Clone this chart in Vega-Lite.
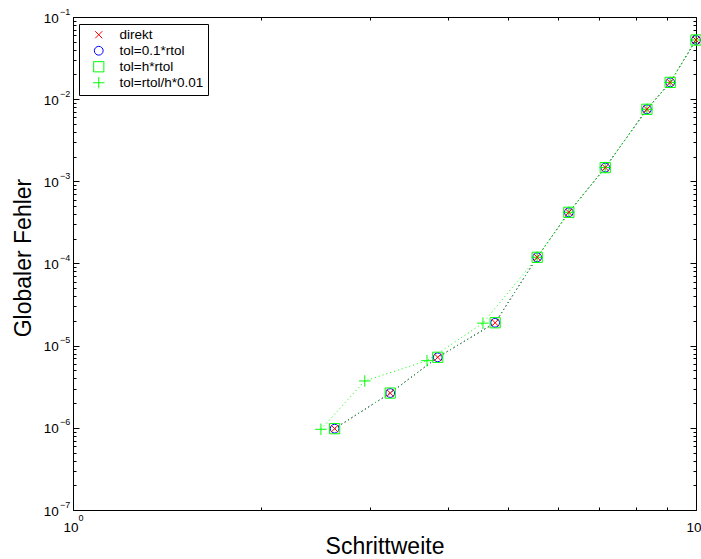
{
  "$schema": "https://vega.github.io/schema/vega-lite/v6.json",
  "width": 623,
  "height": 493,
  "autosize": {"type": "none"},
  "padding": {"left": 73, "top": 17, "right": 5, "bottom": 49},
  "background": "white",
  "config": {
    "font": "Liberation Sans",
    "view": {"stroke": null},
    "line": {"strokeDash": [1, 3], "strokeWidth": 1},
    "axis": {
      "grid": false,
      "domainColor": "black",
      "domainWidth": 1,
      "tickColor": "black",
      "tickWidth": 1,
      "labelColor": "black",
      "labelFont": "Liberation Sans",
      "labelFontSize": 13.5,
      "labelOverlap": false,
      "labelFlush": false,
      "labelBound": false,
      "titleColor": "black",
      "titleFont": "Liberation Sans",
      "titleFontWeight": "normal",
      "titleFontSize": 23
    }
  },
  "data": {
    "values": [
      {"s": "tol=0.1*rtol", "h": 2.63, "err": 9.77e-7},
      {"s": "tol=0.1*rtol", "h": 3.23, "err": 2.65e-6},
      {"s": "tol=0.1*rtol", "h": 3.85, "err": 7.22e-6},
      {"s": "tol=0.1*rtol", "h": 4.76, "err": 1.90e-5},
      {"s": "tol=0.1*rtol", "h": 5.56, "err": 1.19e-4},
      {"s": "tol=0.1*rtol", "h": 6.25, "err": 4.20e-4},
      {"s": "tol=0.1*rtol", "h": 7.15, "err": 1.47e-3},
      {"s": "tol=0.1*rtol", "h": 8.34, "err": 7.53e-3},
      {"s": "tol=0.1*rtol", "h": 9.09, "err": 1.60e-2},
      {"s": "tol=0.1*rtol", "h": 10.0, "err": 5.25e-2},
      {"s": "tol=h*rtol", "h": 2.63, "err": 9.77e-7},
      {"s": "tol=h*rtol", "h": 3.23, "err": 2.65e-6},
      {"s": "tol=h*rtol", "h": 3.85, "err": 7.22e-6},
      {"s": "tol=h*rtol", "h": 4.76, "err": 1.90e-5},
      {"s": "tol=h*rtol", "h": 5.56, "err": 1.19e-4},
      {"s": "tol=h*rtol", "h": 6.25, "err": 4.20e-4},
      {"s": "tol=h*rtol", "h": 7.15, "err": 1.47e-3},
      {"s": "tol=h*rtol", "h": 8.34, "err": 7.53e-3},
      {"s": "tol=h*rtol", "h": 9.09, "err": 1.60e-2},
      {"s": "tol=h*rtol", "h": 10.0, "err": 5.25e-2},
      {"s": "tol=rtol/h*0.01", "h": 2.50, "err": 9.6e-7},
      {"s": "tol=rtol/h*0.01", "h": 2.94, "err": 3.72e-6},
      {"s": "tol=rtol/h*0.01", "h": 3.70, "err": 6.57e-6},
      {"s": "tol=rtol/h*0.01", "h": 4.55, "err": 1.88e-5},
      {"s": "tol=rtol/h*0.01", "h": 5.56, "err": 1.19e-4},
      {"s": "tol=rtol/h*0.01", "h": 6.25, "err": 4.20e-4},
      {"s": "tol=rtol/h*0.01", "h": 7.15, "err": 1.47e-3},
      {"s": "tol=rtol/h*0.01", "h": 8.34, "err": 7.53e-3},
      {"s": "tol=rtol/h*0.01", "h": 9.09, "err": 1.60e-2},
      {"s": "tol=rtol/h*0.01", "h": 10.0, "err": 5.25e-2},
      {"s": "direkt", "h": 2.63, "err": 9.77e-7},
      {"s": "direkt", "h": 3.23, "err": 2.65e-6},
      {"s": "direkt", "h": 3.85, "err": 7.22e-6},
      {"s": "direkt", "h": 4.76, "err": 1.90e-5},
      {"s": "direkt", "h": 5.56, "err": 1.19e-4},
      {"s": "direkt", "h": 6.25, "err": 4.20e-4},
      {"s": "direkt", "h": 7.15, "err": 1.47e-3},
      {"s": "direkt", "h": 8.34, "err": 7.53e-3},
      {"s": "direkt", "h": 9.09, "err": 1.60e-2},
      {"s": "direkt", "h": 10.0, "err": 5.25e-2}
    ]
  },
  "layer": [
    {
      "transform": [{"filter": "datum.s === 'direkt'"}],
      "mark": {"type": "line", "color": "#ff0000"},
      "encoding": {
        "x": {
          "field": "h", "type": "quantitative",
          "scale": {"type": "log", "domain": [1, 10], "nice": false},
          "axis": {
            "orient": "bottom",
            "values": [1, 2, 3, 4, 5, 6, 7, 8, 9, 10],
            "tickSize": {"condition": {"test": "abs(log(datum.value)/LN10 - round(log(datum.value)/LN10)) < 1e-6", "value": -6}, "value": -3},
            "labelPadding": 16.7,
            "labelOffset": -2.5,
            "labelExpr": "abs(log(datum.value)/LN10 - round(log(datum.value)/LN10)) < 1e-6 ? '10' : ''",
            "title": "Schrittweite",
            "titlePadding": -1.5
          }
        },
        "y": {
          "field": "err", "type": "quantitative",
          "scale": {"type": "log", "domain": [1e-7, 0.1], "nice": false},
          "axis": {
            "orient": "left",
            "values": [1e-7, 2e-7, 3e-7, 4e-7, 5e-7, 6e-7, 7e-7, 8e-7, 9e-7, 1e-6, 2e-6, 3e-6, 4e-6, 5e-6, 6e-6, 7e-6, 8e-6, 9e-6, 1e-5, 2e-5, 3e-5, 4e-5, 5e-5, 6e-5, 7e-5, 8e-5, 9e-5, 1e-4, 2e-4, 3e-4, 4e-4, 5e-4, 6e-4, 7e-4, 8e-4, 9e-4, 1e-3, 2e-3, 3e-3, 4e-3, 5e-3, 6e-3, 7e-3, 8e-3, 9e-3, 1e-2, 2e-2, 3e-2, 4e-2, 5e-2, 6e-2, 7e-2, 8e-2, 9e-2, 1e-1],
            "tickSize": {"condition": {"test": "abs(log(datum.value)/LN10 - round(log(datum.value)/LN10)) < 1e-6", "value": -6}, "value": -3},
            "labelPadding": 20.7,
            "labelOffset": 1,
            "labelExpr": "abs(log(datum.value)/LN10 - round(log(datum.value)/LN10)) < 1e-6 ? '10' : ''",
            "title": "Globaler Fehler",
            "titlePadding": 8,
            "titleY": 240.5
          }
        }
      }
    },
    {
      "transform": [{"filter": "datum.s === 'tol=0.1*rtol'"}],
      "mark": {"type": "line", "color": "#0000ff"},
      "encoding": {
        "x": {"field": "h", "type": "quantitative", "axis": null},
        "y": {"field": "err", "type": "quantitative", "axis": null}
      }
    },
    {
      "transform": [{"filter": "datum.s === 'tol=h*rtol'"}],
      "mark": {"type": "line", "color": "#00ff00"},
      "encoding": {
        "x": {"field": "h", "type": "quantitative", "axis": null},
        "y": {"field": "err", "type": "quantitative", "axis": null}
      }
    },
    {
      "transform": [{"filter": "datum.s === 'tol=rtol/h*0.01'"}],
      "mark": {"type": "line", "color": "#00ff00"},
      "encoding": {
        "x": {"field": "h", "type": "quantitative", "axis": null},
        "y": {"field": "err", "type": "quantitative", "axis": null}
      }
    },
    {
      "mark": {"type": "point", "filled": false, "strokeWidth": 1, "opacity": 1},
      "encoding": {
        "x": {
          "field": "h", "type": "quantitative",
          "axis": {
            "orient": "top",
            "values": [1, 2, 3, 4, 5, 6, 7, 8, 9, 10],
            "tickSize": {"condition": {"test": "abs(log(datum.value)/LN10 - round(log(datum.value)/LN10)) < 1e-6", "value": -6}, "value": -3},
            "labelExpr": "abs(log(datum.value)/LN10 - round(log(datum.value)/LN10)) < 1e-6 ? (round(log(datum.value)/LN10) < 0 ? '−' : '') + abs(round(log(datum.value)/LN10)) : ''",
            "labelFontSize": 9,
            "labelAlign": "left",
            "labelBaseline": "middle",
            "labelPadding": -494.5,
            "labelOffset": 5,
            "title": null
          }
        },
        "y": {
          "field": "err", "type": "quantitative",
          "axis": {
            "orient": "right",
            "values": [1e-7, 2e-7, 3e-7, 4e-7, 5e-7, 6e-7, 7e-7, 8e-7, 9e-7, 1e-6, 2e-6, 3e-6, 4e-6, 5e-6, 6e-6, 7e-6, 8e-6, 9e-6, 1e-5, 2e-5, 3e-5, 4e-5, 5e-5, 6e-5, 7e-5, 8e-5, 9e-5, 1e-4, 2e-4, 3e-4, 4e-4, 5e-4, 6e-4, 7e-4, 8e-4, 9e-4, 1e-3, 2e-3, 3e-3, 4e-3, 5e-3, 6e-3, 7e-3, 8e-3, 9e-3, 1e-2, 2e-2, 3e-2, 4e-2, 5e-2, 6e-2, 7e-2, 8e-2, 9e-2, 1e-1],
            "tickSize": {"condition": {"test": "abs(log(datum.value)/LN10 - round(log(datum.value)/LN10)) < 1e-6", "value": -6}, "value": -3},
            "labelExpr": "abs(log(datum.value)/LN10 - round(log(datum.value)/LN10)) < 1e-6 ? (round(log(datum.value)/LN10) < 0 ? '−' : '') + abs(round(log(datum.value)/LN10)) : ''",
            "labelFontSize": 9,
            "labelAlign": "left",
            "labelBaseline": "middle",
            "labelPadding": -630.5,
            "labelOffset": -6,
            "title": null
          }
        },
        "color": {
          "field": "s", "type": "nominal",
          "scale": {"domain": ["direkt", "tol=0.1*rtol", "tol=h*rtol", "tol=rtol/h*0.01"], "range": ["#ff0000", "#0000ff", "#00ff00", "#00ff00"]},
          "legend": {
            "title": null, "orient": "none", "legendX": 6, "legendY": 7,
            "strokeColor": "black", "fillColor": "white", "padding": 4,
            "labelFont": "Liberation Sans", "labelFontSize": 13.5, "labelColor": "black",
            "labelOffset": 14, "rowPadding": 1, "symbolOffset": 9, "symbolStrokeWidth": 1,
            "encode": {"symbols": {"update": {"size": {"signal": "datum.value === 'direkt' ? 100 : datum.value === 'tol=0.1*rtol' ? 132 : datum.value === 'tol=h*rtol' ? 76 : 144"}}}}
          }
        },
        "shape": {
          "field": "s", "type": "nominal",
          "scale": {"domain": ["direkt", "tol=0.1*rtol", "tol=h*rtol", "tol=rtol/h*0.01"], "range": ["M-1,-1L1,1M-1,1L1,-1", "circle", "square", "M-1,0L1,0M0,-1L0,1"]},
          "legend": {
            "title": null, "orient": "none", "legendX": 6, "legendY": 7,
            "strokeColor": "black", "fillColor": "white", "padding": 4,
            "labelFont": "Liberation Sans", "labelFontSize": 13.5, "labelColor": "black",
            "labelOffset": 14, "rowPadding": 1, "symbolOffset": 9, "symbolStrokeWidth": 1,
            "encode": {"symbols": {"update": {"size": {"signal": "datum.value === 'direkt' ? 100 : datum.value === 'tol=0.1*rtol' ? 132 : datum.value === 'tol=h*rtol' ? 76 : 144"}}}}
          }
        },
        "size": {
          "field": "s", "type": "nominal",
          "scale": {"domain": ["direkt", "tol=0.1*rtol", "tol=h*rtol", "tol=rtol/h*0.01"], "range": [50, 132, 76, 144]},
          "legend": null
        }
      }
    }
  ],
  "resolve": {"axis": {"x": "independent", "y": "independent"}}
}
